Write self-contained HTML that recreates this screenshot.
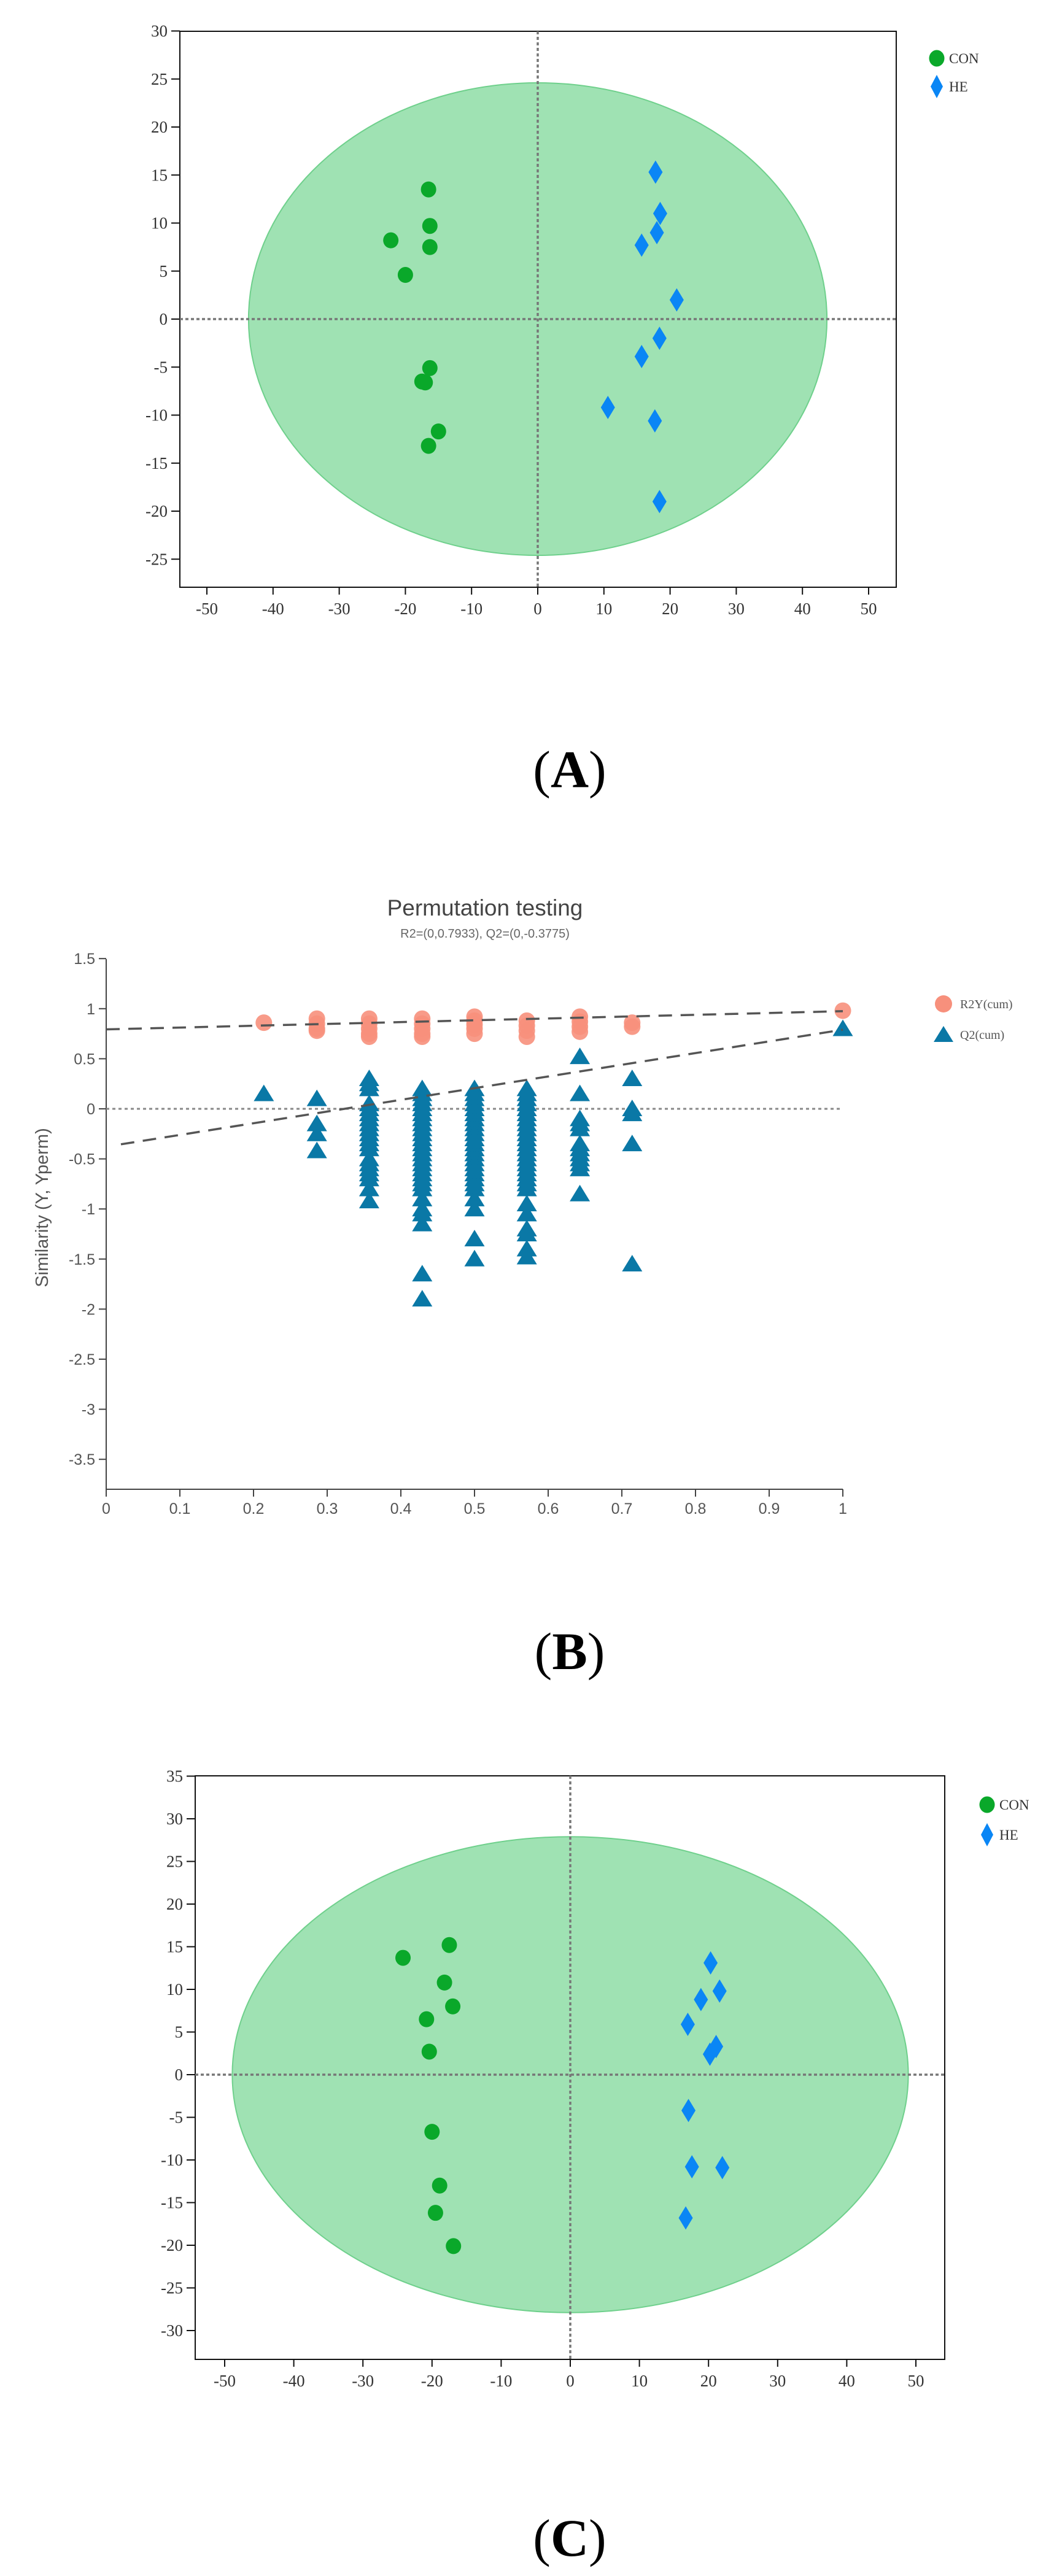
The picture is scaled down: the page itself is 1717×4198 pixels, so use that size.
<!DOCTYPE html>
<html><head><meta charset="utf-8"><style>
html,body{margin:0;padding:0;background:#fff;}
svg{display:block;}
</style></head><body>
<svg id="fig" width="1717" height="4198" viewBox="0 0 1717 4198" xmlns="http://www.w3.org/2000/svg"></svg>
<script>
// ---------- Panel A data ----------
const aConX = [-16.5,-16.3,-22.2,-16.3,-20,-16.3,-17.5,-17,-15,-16.5];
const aConY = [13.5,9.7,8.2,7.5,4.6,-5.1,-6.5,-6.6,-11.7,-13.2];
const aHeX = [17.8,18.5,18,15.7,21,18.4,15.7,10.6,17.7,18.4];
const aHeY = [15.3,11,9,7.7,2,-2,-3.9,-9.2,-10.6,-19];
const aXTicks = [-50,-40,-30,-20,-10,0,10,20,30,40,50];
const aYTicks = [30,25,20,15,10,5,0,-5,-10,-15,-20,-25];
const aEllipse = [43.7,24.6];
// ---------- Panel C data ----------
const cConX = [-24.2,-17.5,-18.2,-17,-20.8,-20.4,-20,-18.9,-19.5,-16.9];
const cConY = [13.7,15.2,10.8,8,6.5,2.7,-6.7,-13,-16.2,-20.1];
const cHeX = [20.3,21.6,18.9,17,21.1,20.2,17.1,17.6,22,16.7];
const cHeY = [13.1,9.8,8.8,5.9,3.3,2.4,-4.2,-10.8,-10.9,-16.8];
const cXTicks = [-50,-40,-30,-20,-10,0,10,20,30,40,50];
const cYTicks = [35,30,25,20,15,10,5,0,-5,-10,-15,-20,-25,-30];
const cEllipse = [48.9,27.9];
// ---------- Panel B data ----------
const r2X = [0.214,0.286,0.286,0.286,0.286,0.357,0.357,0.357,0.357,0.357,0.429,0.429,0.429,0.429,0.429,0.5,0.5,0.5,0.5,0.5,0.571,0.571,0.571,0.571,0.643,0.643,0.643,0.643,0.714,0.714,1];
const r2Y = [0.86,0.9,0.85,0.8,0.78,0.9,0.85,0.8,0.75,0.72,0.9,0.85,0.8,0.75,0.72,0.92,0.88,0.84,0.8,0.75,0.88,0.83,0.78,0.72,0.92,0.87,0.82,0.77,0.86,0.82,0.98];
const q2X = [0.214,
 0.286,0.286,0.286,0.286,
 0.357,0.357,0.357,0.357,0.357,0.357,0.357,0.357,0.357,0.357,0.357,0.357,0.357,0.357,0.357,0.357,0.357,0.357,0.357,0.357,
 0.429,0.429,0.429,0.429,0.429,0.429,0.429,0.429,0.429,0.429,0.429,0.429,0.429,0.429,0.429,0.429,0.429,0.429,0.429,0.429,0.429,0.429,0.429,0.429,0.429,0.429,0.429,
 0.5,0.5,0.5,0.5,0.5,0.5,0.5,0.5,0.5,0.5,0.5,0.5,0.5,0.5,0.5,0.5,0.5,0.5,0.5,0.5,0.5,0.5,0.5,0.5,0.5,
 0.571,0.571,0.571,0.571,0.571,0.571,0.571,0.571,0.571,0.571,0.571,0.571,0.571,0.571,0.571,0.571,0.571,0.571,0.571,0.571,0.571,0.571,0.571,0.571,0.571,0.571,0.571,
 0.643,0.643,0.643,0.643,0.643,0.643,0.643,0.643,0.643,0.643,0.643,0.643,
 0.714,0.714,0.714,0.714,0.714,
 1];
const q2Y = [0.15,
 0.1,-0.15,-0.25,-0.42,
 0.3,0.25,0.2,0.05,0,-0.05,-0.1,-0.15,-0.2,-0.25,-0.3,-0.35,-0.4,-0.5,-0.55,-0.6,-0.65,-0.7,-0.8,-0.92,
 0.2,0.15,0.1,0.05,0,-0.05,-0.1,-0.15,-0.2,-0.25,-0.3,-0.35,-0.4,-0.5,-0.6,-0.7,-0.8,-0.9,-1.05,-1.15,-1.65,-1.9,-0.45,-0.55,-0.65,-0.75,-1.0,
 0.2,0.15,0.1,0.05,0,-0.05,-0.1,-0.15,-0.2,-0.25,-0.3,-0.35,-0.4,-0.45,-0.5,-0.55,-0.6,-0.65,-0.7,-0.8,-0.9,-1.0,-1.3,-1.5,-0.75,
 0.2,0.15,0.1,0.05,0,-0.05,-0.1,-0.15,-0.2,-0.25,-0.3,-0.35,-0.4,-0.45,-0.5,-0.55,-0.6,-0.65,-0.7,-0.8,-0.95,-1.05,-1.2,-1.25,-1.4,-1.48,-0.75,
 0.52,0.15,-0.1,-0.15,-0.2,-0.35,-0.4,-0.45,-0.5,-0.55,-0.6,-0.85,
 0.3,0,-0.05,-0.35,-1.55,
 0.8];
const bXTicks = [0,0.1,0.2,0.3,0.4,0.5,0.6,0.7,0.8,0.9,1];
const bXLabels = ["0","0.1","0.2","0.3","0.4","0.5","0.6","0.7","0.8","0.9","1"];
const bYTicks = [1.5,1,0.5,0,-0.5,-1,-1.5,-2,-2.5,-3,-3.5];
const bYLabels = ["1.5","1","0.5","0","-0.5","-1","-1.5","-2","-2.5","-3","-3.5"];
const r2Line = [0.7933,0.975];
const q2Line = [-0.3775,0.79];

const NS = "http://www.w3.org/2000/svg";
const svg = document.getElementById('fig');
function el(tag, attrs, parent) {
  const e = document.createElementNS(NS, tag);
  for (const k in attrs) e.setAttribute(k, attrs[k]);
  (parent || svg).appendChild(e);
  return e;
}

function scatterPanel(p) {
  const g = el('g', {});
  
  
  const sx = v => p.x0 + v * p.kx;
  const sy = v => p.y0 - v * p.ky;
  const ell = el('ellipse', {cx: sx(0), cy: sy(0), rx: p.ell[0] * p.kx, ry: p.ell[1] * p.ky, fill: '#9fe2b3', stroke: '#6fd08c', 'stroke-width': 2}, g);
  
  
  const fr = el('rect', {x: p.L, y: p.T, width: p.R - p.L, height: p.B - p.T, fill: 'none', stroke: '#111', 'stroke-width': 2}, g);
  
  
  const h0 = el('line', {x1: p.L, x2: p.R, y1: sy(0), y2: sy(0), stroke: '#777', 'stroke-width': 3.5, 'stroke-dasharray': '5,4'}, g);
  
  
  const v0 = el('line', {x1: sx(0), x2: sx(0), y1: p.T, y2: p.B, stroke: '#777', 'stroke-width': 3.5, 'stroke-dasharray': '5,4'}, g);
  
  
  p.yt.forEach(v => {
    const t = el('line', {x1: p.L - 14, x2: p.L, y1: sy(v), y2: sy(v), stroke: '#111', 'stroke-width': 2}, g);
    
    
    const tx = el('text', {x: p.L - 20, y: sy(v) + 9, 'text-anchor': 'end', 'font-family': '"Liberation Serif", serif', 'font-size': 27, fill: '#333'}, g);
    tx.textContent = String(v);
    
    
  });
  p.xt.forEach(v => {
    const t = el('line', {x1: sx(v), x2: sx(v), y1: p.B, y2: p.B + 12, stroke: '#111', 'stroke-width': 2}, g);
    
    
    const tx = el('text', {x: sx(v), y: p.B + 44, 'text-anchor': 'middle', 'font-family': '"Liberation Serif", serif', 'font-size': 27, fill: '#333'}, g);
    tx.textContent = String(v);
    
    
  });
  p.conX.forEach((v, i) => {
    const c = el('ellipse', {cx: sx(v), cy: sy(p.conY[i]), rx: 12.5, ry: 13, fill: '#0aa82a'}, g);
    
    
  });
  p.heX.forEach((v, i) => {
    const x = sx(v), y = sy(p.heY[i]);
    const d = el('polygon', {points: `${x},${y-19} ${x+11.5},${y} ${x},${y+19} ${x-11.5},${y}`, fill: '#0a86f5'}, g);
    
    
  });
  const lg = el('g', {}, g);
  
  
  el('ellipse', {cx: p.lx, cy: p.ly1, rx: 12.5, ry: 13.5, fill: '#0aa82a'}, lg);
  const t1 = el('text', {x: p.lx + 20, y: p.ly1 + 8, 'font-family': '"Liberation Serif", serif', 'font-size': 23, fill: '#333'}, lg);
  t1.textContent = 'CON';
  
  
  el('polygon', {points: `${p.lx},${p.ly2-19} ${p.lx+10},${p.ly2} ${p.lx},${p.ly2+19} ${p.lx-10},${p.ly2}`, fill: '#0a86f5'}, lg);
  const t2 = el('text', {x: p.lx + 20, y: p.ly2 + 8, 'font-family': '"Liberation Serif", serif', 'font-size': 23, fill: '#333'}, lg);
  t2.textContent = 'HE';
  
  
  const lb = el('text', {x: 928, y: p.labY, 'text-anchor': 'middle', 'font-family': '"Liberation Serif", serif', 'font-size': 86, fill: '#000'}, g);
  lb.innerHTML = '(<tspan font-weight="bold">' + p.label + '</tspan>)';
  
  
}

scatterPanel({name: 'panel-a-scores-plot', L: 293, R: 1460, T: 51, B: 957, x0: 876, kx: 10.78, y0: 520, ky: 15.65,
  ell: aEllipse, xt: aXTicks, yt: aYTicks, conX: aConX, conY: aConY, heX: aHeX, heY: aHeY,
  lx: 1526, ly1: 95, ly2: 141, label: 'A', labY: 1283});
scatterPanel({name: 'panel-c-scores-plot', L: 318, R: 1539, T: 2894, B: 3845, x0: 929, kx: 11.26, y0: 3381, ky: 13.9,
  ell: cEllipse, xt: cXTicks, yt: cYTicks, conX: cConX, conY: cConY, heX: cHeX, heY: cHeY,
  lx: 1608, ly1: 2941, ly2: 2990, label: 'C', labY: 4165});

// ---------- Panel B ----------
(function () {
  const g = el('g', {});
  
  
  const L = 173, B = 2427, T = 1563, R = 1373;
  const sx = v => L + v * 1200;
  const sy = v => 1807 - v * 163.2;
  const font = '"Liberation Sans", sans-serif';
  const title = el('text', {x: 790, y: 1492, 'text-anchor': 'middle', 'font-family': font, 'font-size': 37, fill: '#444'}, g);
  title.textContent = 'Permutation testing';
  
  
  const sub = el('text', {x: 790, y: 1528, 'text-anchor': 'middle', 'font-family': font, 'font-size': 20, fill: '#666'}, g);
  sub.textContent = 'R2=(0,0.7933), Q2=(0,-0.3775)';
  
  
  const yl = el('text', {x: 0, y: 0, 'text-anchor': 'middle', 'font-family': font, 'font-size': 29, fill: '#555', transform: 'translate(78,1968) rotate(-90)'}, g);
  yl.textContent = 'Similarity (Y, Yperm)';
  
  
  const ya = el('line', {x1: L, x2: L, y1: T, y2: B, stroke: '#444', 'stroke-width': 2}, g);
  
  
  const xa = el('line', {x1: L, x2: R, y1: B, y2: B, stroke: '#444', 'stroke-width': 2}, g);
  
  
  bYTicks.forEach((v, i) => {
    const t = el('line', {x1: L - 12, x2: L, y1: sy(v), y2: sy(v), stroke: '#444', 'stroke-width': 2}, g);
    
    
    const tx = el('text', {x: L - 18, y: sy(v) + 9, 'text-anchor': 'end', 'font-family': font, 'font-size': 25, fill: '#555'}, g);
    tx.textContent = bYLabels[i];
    
    
  });
  bXTicks.forEach((v, i) => {
    const t = el('line', {x1: sx(v), x2: sx(v), y1: B, y2: B + 12, stroke: '#444', 'stroke-width': 2}, g);
    
    
    const tx = el('text', {x: sx(v), y: B + 40, 'text-anchor': 'middle', 'font-family': font, 'font-size': 25, fill: '#555'}, g);
    tx.textContent = bXLabels[i];
    
    
  });
  const zl = el('line', {x1: sx(0), x2: sx(1), y1: sy(0), y2: sy(0), stroke: '#888', 'stroke-width': 3, 'stroke-dasharray': '5,5'}, g);
  
  
  r2X.forEach((v, i) => {
    const c = el('circle', {cx: sx(v), cy: sy(r2Y[i]), r: 13.5, fill: '#f7907c', 'fill-opacity': 0.9}, g);
    
    
  });
  q2X.forEach((v, i) => {
    const x = sx(v), y = sy(q2Y[i]);
    const t = el('polygon', {points: `${x},${y-15} ${x+16.5},${y+12} ${x-16.5},${y+12}`, fill: '#0a78a6'}, g);
    
    
  });
  const rl = el('line', {x1: sx(0), x2: sx(1), y1: sy(r2Line[0]), y2: sy(r2Line[1]), stroke: '#555', 'stroke-width': 3.5, 'stroke-dasharray': '22,14'}, g);
  
  
  const ql = el('line', {x1: sx(0.02), x2: sx(1), y1: sy(q2Line[0] + 0.02 * (q2Line[1] - q2Line[0])), y2: sy(q2Line[1]), stroke: '#555', 'stroke-width': 3.5, 'stroke-dasharray': '22,14'}, g);
  
  
  const lg = el('g', {}, g);
  
  
  el('circle', {cx: 1537, cy: 1636, r: 14, fill: '#f7907c'}, lg);
  const a = el('text', {x: 1564, y: 1643, 'font-family': '"Liberation Serif", serif', 'font-size': 20, fill: '#555'}, lg);
  a.textContent = 'R2Y(cum)';
  
  
  el('polygon', {points: '1537,1672 1553,1698 1521,1698', fill: '#0a78a6'}, lg);
  const b = el('text', {x: 1564, y: 1693, 'font-family': '"Liberation Serif", serif', 'font-size': 20, fill: '#555'}, lg);
  b.textContent = 'Q2(cum)';
  
  
  const lb = el('text', {x: 928, y: 2720, 'text-anchor': 'middle', 'font-family': '"Liberation Serif", serif', 'font-size': 86, fill: '#000'}, g);
  lb.innerHTML = '(<tspan font-weight="bold">B</tspan>)';
  
  
})();
</script>
</body></html>
